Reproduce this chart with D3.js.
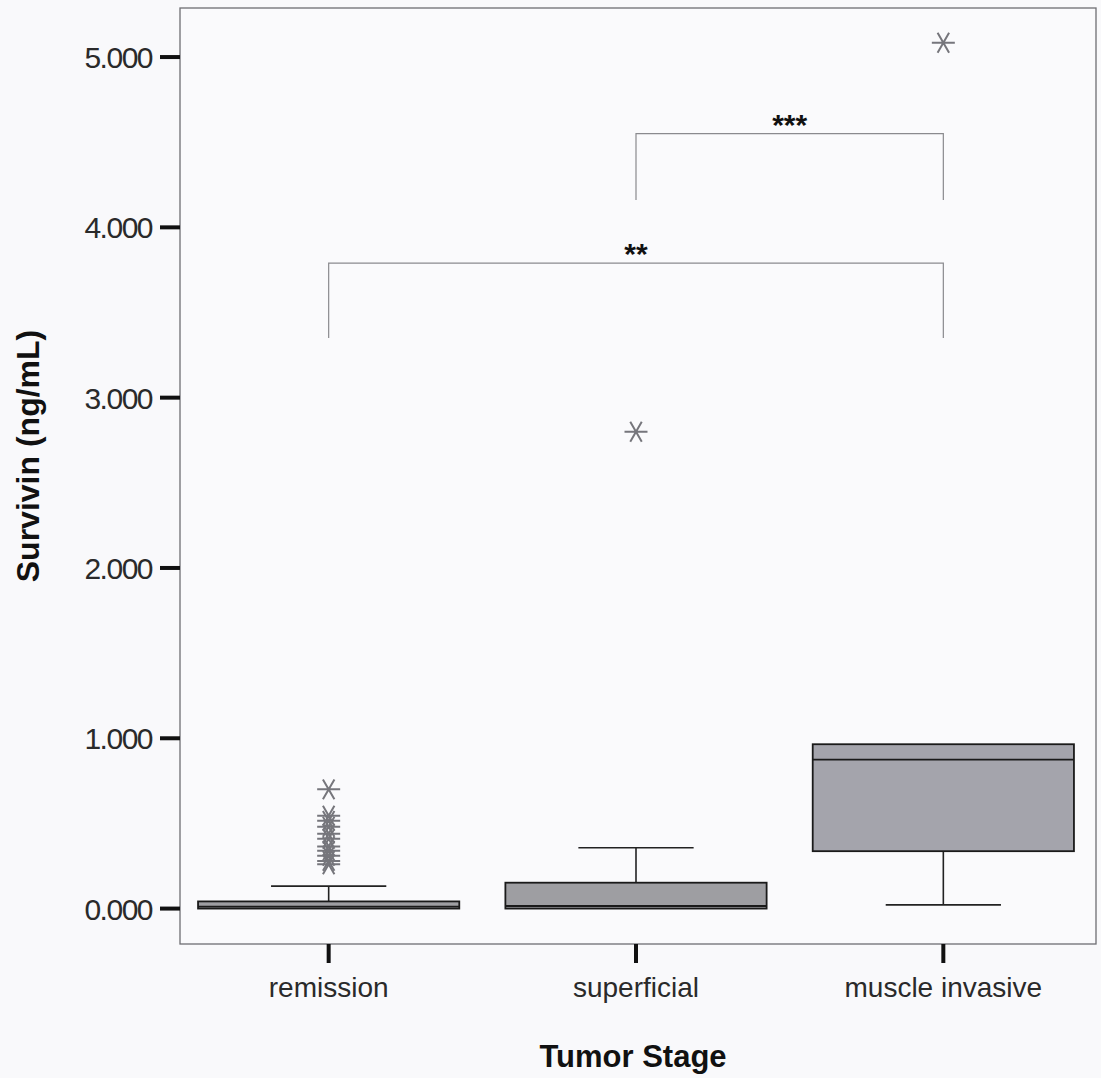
<!DOCTYPE html>
<html>
<head>
<meta charset="utf-8">
<script src="https://cdn.jsdelivr.net/npm/d3@7"></script>
<style>
  html, body { margin: 0; padding: 0; background: #f9f9fb; }
  svg { display: block; font-family: "Liberation Sans", Arial, sans-serif; }
</style>
</head>
<body>
<svg id="chart" width="1101" height="1078"></svg>
<script>
// categories and box statistics (ng/mL)
const stages = ["remission", "superficial", "muscle invasive"];
const whiskerLow = [0.0, 0.0, 0.022];
const q1 = [0.0, 0.0, 0.337];
const median = [0.012, 0.015, 0.875];
const q3 = [0.042, 0.152, 0.965];
const whiskerHigh = [0.132, 0.357, 0.965];
// outliers per stage
const outliers = [
  [0.70, 0.545, 0.515, 0.48, 0.44, 0.41, 0.365, 0.34, 0.31, 0.28, 0.26],
  [2.80],
  [5.084]
];
const yTicks = [0, 1, 2, 3, 4, 5];
// significance brackets: from stage, to stage, bar value, leg bottom value, label
const brackets = [
  { from: "remission", to: "muscle invasive", top: 3.79, bottom: 3.35, label: "**" },
  { from: "superficial", to: "muscle invasive", top: 4.55, bottom: 4.16, label: "***" }
];

const svg = d3.select("#chart");
const frame = { left: 180, right: 1096, top: 8, bottom: 944 };

const x = d3.scaleBand().domain(stages).range([175, 1097]).padding(0);
const y = d3.scaleLinear().domain([-0.208, 5.288]).range([frame.bottom, frame.top]);

const boxW = x.bandwidth() * 0.85;
const capW = x.bandwidth() * 0.375;
const cx = s => x(s) + x.bandwidth() / 2;

// plot frame
svg.append("rect")
  .attr("x", frame.left).attr("y", frame.top)
  .attr("width", frame.right - frame.left).attr("height", frame.bottom - frame.top)
  .attr("fill", "#fafafc").attr("stroke", "#6e6e72").attr("stroke-width", 1.3);

// y axis ticks + labels
const yAxis = svg.append("g");
yAxis.selectAll("line").data(yTicks).enter().append("line")
  .attr("x1", 160).attr("x2", frame.left)
  .attr("y1", d => y(d)).attr("y2", d => y(d))
  .attr("stroke", "#111").attr("stroke-width", 4);
yAxis.selectAll("text").data(yTicks).enter().append("text")
  .attr("x", 152).attr("y", d => y(d) + 11)
  .attr("text-anchor", "end")
  .attr("font-size", 30).attr("letter-spacing", "-1.5px")
  .attr("fill", "#2a2a2a")
  .text(d => d3.format(".3f")(d));

// x axis ticks + labels
const xAxis = svg.append("g");
xAxis.selectAll("line").data(stages).enter().append("line")
  .attr("x1", cx).attr("x2", cx)
  .attr("y1", frame.bottom).attr("y2", frame.bottom + 19)
  .attr("stroke", "#111").attr("stroke-width", 4);
xAxis.selectAll("text").data(stages).enter().append("text")
  .attr("x", cx).attr("y", 997)
  .attr("text-anchor", "middle")
  .attr("font-size", 28).attr("fill", "#2a2a2a")
  .text(d => d);

// axis titles
svg.append("text")
  .attr("x", 633).attr("y", 1067)
  .attr("text-anchor", "middle")
  .attr("font-size", 31).attr("font-weight", "bold").attr("fill", "#111")
  .text("Tumor Stage");
svg.append("text")
  .attr("transform", "translate(39,456) rotate(-90)")
  .attr("text-anchor", "middle")
  .attr("font-size", 32).attr("font-weight", "bold").attr("fill", "#111")
  .text("Survivin (ng/mL)");

// boxes
const boxes = svg.append("g").selectAll("g").data(stages).enter().append("g");

boxes.append("line") // upper whisker
  .attr("x1", cx).attr("x2", cx)
  .attr("y1", (d, i) => y(q3[i])).attr("y2", (d, i) => y(whiskerHigh[i]))
  .attr("stroke", "#222").attr("stroke-width", 1.6);
boxes.append("line") // lower whisker
  .attr("x1", cx).attr("x2", cx)
  .attr("y1", (d, i) => y(q1[i])).attr("y2", (d, i) => y(whiskerLow[i]))
  .attr("stroke", "#222").attr("stroke-width", 1.6);
boxes.filter((d, i) => whiskerHigh[i] > q3[i]).append("line")
  .attr("x1", d => cx(d) - capW / 2).attr("x2", d => cx(d) + capW / 2)
  .attr("y1", d => y(whiskerHigh[stages.indexOf(d)]))
  .attr("y2", d => y(whiskerHigh[stages.indexOf(d)]))
  .attr("stroke", "#222").attr("stroke-width", 1.6);
boxes.filter((d, i) => whiskerLow[i] < q1[i]).append("line")
  .attr("x1", d => cx(d) - capW / 2).attr("x2", d => cx(d) + capW / 2)
  .attr("y1", d => y(whiskerLow[stages.indexOf(d)]))
  .attr("y2", d => y(whiskerLow[stages.indexOf(d)]))
  .attr("stroke", "#222").attr("stroke-width", 1.6);

boxes.append("rect")
  .attr("x", d => cx(d) - boxW / 2)
  .attr("width", boxW)
  .attr("y", (d, i) => y(q3[i]))
  .attr("height", (d, i) => Math.max(2, y(q1[i]) - y(q3[i])))
  .attr("fill", (d, i) => i === 2 ? "#a4a4ac" : "#9e9ea2")
  .attr("stroke", "#1a1a1a").attr("stroke-width", 1.8);
boxes.append("line") // median
  .attr("x1", d => cx(d) - boxW / 2).attr("x2", d => cx(d) + boxW / 2)
  .attr("y1", (d, i) => y(median[i])).attr("y2", (d, i) => y(median[i]))
  .attr("stroke", "#1a1a1a").attr("stroke-width", 1.8);

// outlier asterisks
const star = r => {
  let p = "";
  [0, 60, 120].forEach(a => {
    const t = a * Math.PI / 180;
    p += `M${-r * Math.cos(t)},${-r * Math.sin(t)}L${r * Math.cos(t)},${r * Math.sin(t)}`;
  });
  return p;
};
const pts = [];
stages.forEach((s, i) => outliers[i].forEach(v => pts.push({ s, v })));
svg.append("g").selectAll("path").data(pts).enter().append("path")
  .attr("transform", d => `translate(${cx(d.s)},${y(d.v)})`)
  .attr("d", star(11.5))
  .attr("fill", "none").attr("stroke", "#76767c").attr("stroke-width", 2);

// significance brackets
const br = svg.append("g").selectAll("g").data(brackets).enter().append("g");
br.append("path")
  .attr("d", d => `M${cx(d.from)},${y(d.bottom)}V${y(d.top)}H${cx(d.to)}V${y(d.bottom)}`)
  .attr("fill", "none").attr("stroke", "#8a8a8e").attr("stroke-width", 1.2);
br.append("text")
  .attr("x", d => (cx(d.from) + cx(d.to)) / 2)
  .attr("y", d => y(d.top) + 1)
  .attr("text-anchor", "middle")
  .attr("font-size", 30).attr("font-weight", "bold").attr("fill", "#111")
  .text(d => d.label);
</script>
</body>
</html>
